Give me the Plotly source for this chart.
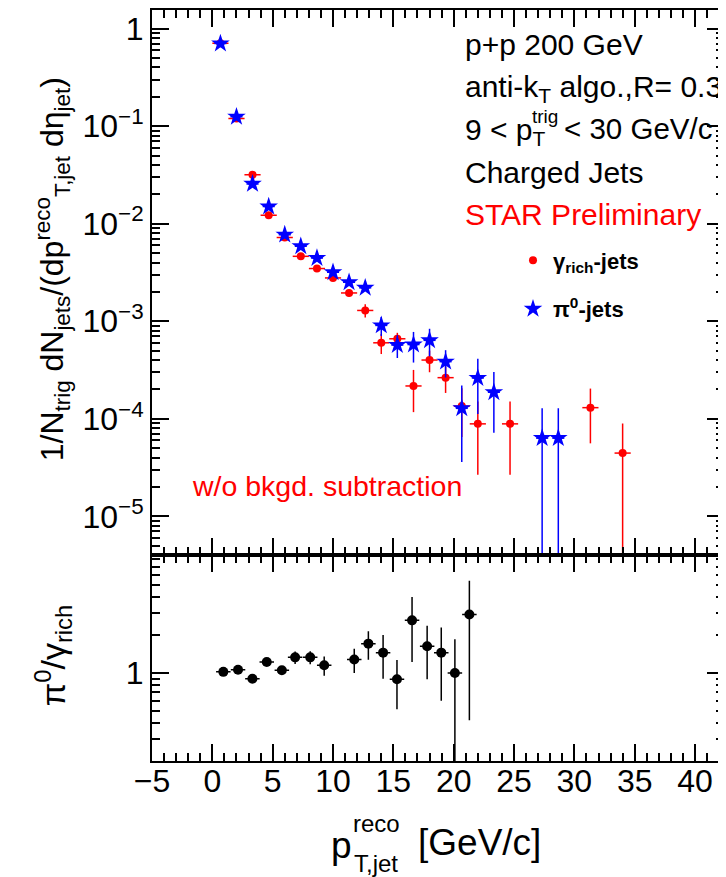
import plotly.graph_objects as go
from plotly.subplots import make_subplots

# pi0-triggered jets (blue stars)
pi0_pt = [0.67, 2.0, 3.33, 4.67, 6.0, 7.33, 8.67, 10.0, 11.33, 12.67,
          14.0, 15.33, 16.67, 18.0, 19.33, 20.67, 22.0, 23.33, 27.33, 28.67]
pi0_val = [0.703, 0.125, 0.0256, 0.0150, 0.00772, 0.00586, 0.00445, 0.00318, 0.00251, 0.00220,
           0.000906, 0.000570, 0.000577, 0.000637, 0.000385, 0.000128, 0.000262, 0.000187, 6.33e-5, 6.33e-5]
pi0_err = [0.01, 0.003, 0.0008, 0.0005, 0.0003, 0.00025, 0.0002, 0.00018, 0.00016, 0.00016,
           0.0002, 0.00015, 0.0002, 0.0002, 0.00012, 9.2e-5, 0.00015, 0.000115, 6.5e-5, 6.5e-5]

# gamma_rich-triggered jets (red circles)
gam_pt = [0.67, 2.0, 3.33, 4.67, 6.0, 7.33, 8.67, 10.0, 11.33, 12.67,
          14.0, 15.33, 16.67, 18.0, 19.33, 20.67, 22.0, 24.67, 31.33, 34.0]
gam_val = [0.71, 0.120, 0.0317, 0.0122, 0.00724, 0.00463, 0.00347, 0.00278, 0.00195, 0.00129,
           0.000601, 0.000661, 0.000217, 0.000400, 0.000264, 0.000135, 8.87e-5, 8.87e-5, 0.000130, 4.45e-5]
gam_err = [0.01, 0.003, 0.001, 0.0005, 0.0003, 0.00025, 0.0002, 0.00018, 0.00016, 0.0002,
           0.00014, 0.0001, 0.0001, 0.0001, 8e-5, 7e-5, 6.2e-5, 6.2e-5, 7.4e-5, 4.5e-5]
bin_half = 0.67

# ratio pi0 / gamma_rich
ratio_pt = [0.91, 2.13, 3.32, 4.51, 5.76, 6.86, 8.11, 9.27, 11.76, 12.93,
            14.15, 15.3, 16.55, 17.8, 18.97, 20.1, 21.3]
ratio_val = [1.02, 1.06, 0.90, 1.22, 1.05, 1.33, 1.33, 1.15, 1.28, 1.71,
             1.45, 0.89, 2.62, 1.63, 1.45, 1.0, 2.92]
ratio_err = [0.04, 0.04, 0.04, 0.05, 0.05, 0.15, 0.16, 0.2, 0.28, 0.44,
             0.55, 0.375, 1.4, 0.74, 0.85, 0.85, 2.5]
ratio_half = 0.6

top_ticks = [1e-5, 1e-4, 1e-3, 1e-2, 1e-1, 1]
top_ticktext = ["10<sup>\u22125</sup>", "10<sup>\u22124</sup>", "10<sup>\u22123</sup>",
                "10<sup>\u22122</sup>", "10<sup>\u22121</sup>", "1"]
top_minor = [m * d for d in [1e-6, 1e-5, 1e-4, 1e-3, 1e-2, 1e-1, 1] for m in range(2, 10)]
low_minor = [0.2, 0.3, 0.4, 0.5, 0.6, 0.7, 0.8, 0.9, 2, 3, 4, 5, 6, 7, 8, 9]

W, H = 726, 877
OFF = 8  # page body margin: target pixel = figure pixel + OFF
L, R, T, B = 152 - OFF, 724 - OFF, 0, 761 - OFF
FONT = "Liberation Sans, Arial, sans-serif"


def px(x):
    # target-image pixel -> paper fraction
    return (x - OFF - L) / (R - L)


def py(y):
    return (B - (y - OFF)) / (B - T)


fig = make_subplots(rows=2, cols=1, shared_xaxes=True, vertical_spacing=0)

fig.add_trace(go.Scatter(
    x=gam_pt, y=gam_val, mode="markers", name="<b>\u03b3<sub>rich</sub>-jets</b>",
    legendgroup="g",
    marker=dict(color="#ff0000", size=8, symbol="circle"),
    error_y=dict(type="data", array=gam_err, color="#ff0000", thickness=1.5, width=0),
    error_x=dict(type="constant", value=bin_half, color="#ff0000", thickness=1.5, width=0),
), row=1, col=1)

fig.add_trace(go.Scatter(
    x=pi0_pt, y=pi0_val, mode="markers", name="<b>\u03c0<sup>0</sup>-jets</b>",
    legendgroup="p",
    marker=dict(color="#0000ff", size=14, symbol="star"),
    error_y=dict(type="data", array=pi0_err, color="#0000ff", thickness=1.5, width=0),
    error_x=dict(type="constant", value=0.5, color="#0000ff", thickness=1.5, width=0),
), row=1, col=1)

fig.add_trace(go.Scatter(
    x=ratio_pt, y=ratio_val, mode="markers", showlegend=False,
    marker=dict(color="black", size=10, symbol="circle"),
    error_y=dict(type="data", array=ratio_err, color="black", thickness=1.5, width=0),
    error_x=dict(type="constant", value=ratio_half, color="black", thickness=1.5, width=0),
), row=2, col=1)

axis_common = dict(
    showline=True, linecolor="black", linewidth=2, mirror="allticks",
    ticks="inside", tickcolor="black", tickwidth=1.5, ticklen=17,
    showgrid=False, zeroline=False,
    tickfont=dict(family=FONT, size=32, color="black"),
)
xminor = dict(ticks="inside", ticklen=8, dtick=1, tick0=0, tickcolor="black", tickwidth=1.5, showgrid=False)

fig.update_xaxes(range=[-5, 42.4], dtick=5, tick0=0, minor=xminor, **axis_common)
fig.update_xaxes(showticklabels=False, row=1, col=1)
fig.update_xaxes(ticklabelstandoff=-9, row=2, col=1)

fig.update_yaxes(
    type="log", range=[-5.392, 0.191], tickmode="array", tickvals=top_ticks, ticktext=top_ticktext,
    minor=dict(ticks="inside", ticklen=8, tickmode="array", tickvals=top_minor,
               tickcolor="black", tickwidth=1.5, showgrid=False),
    domain=[py(554), 1], row=1, col=1, **axis_common,
)
fig.update_yaxes(
    type="log", range=[-0.701, 0.942], tickmode="array", tickvals=[1], ticktext=["1"],
    minor=dict(ticks="inside", ticklen=8, tickmode="array", tickvals=low_minor,
               tickcolor="black", tickwidth=1.5, showgrid=False),
    domain=[0, py(554)], row=2, col=1, **axis_common,
)

# unity line in the ratio panel (log axis -> log10(1) = 0)
fig.add_shape(type="line", xref="x2 domain", yref="y2", x0=0, x1=1, y0=0, y1=0,
              line=dict(color="#ff0000", width=1.5, dash="5px,4px"))


def note(txt, x, y, size, color="black", angle=0, anchor="left"):
    fig.add_annotation(text=txt, xref="paper", yref="paper", x=px(x), y=py(y),
                       xanchor=anchor, yanchor="middle", showarrow=False, textangle=angle,
                       font=dict(family=FONT, size=size, color=color))


note("p+p 200 GeV", 463, 43, 30)
note("anti-k<sub>T</sub> algo.,R= 0.3", 463, 87, 30)
note("9 &lt; p<sub>T</sub>", 463, 130, 30)
note("trig", 530, 115, 19)
note("&lt; 30 GeV/c", 562, 127, 29.5)
note("Charged Jets", 463, 171, 30)
note("STAR Preliminary", 463, 213, 30, "#ff0000")

note("w/o bkgd. subtraction", 190, 485, 28.5, "#ff0000")

note("1/N<sub>trig</sub> dN<sub>jets</sub>/(dp<sup>reco</sup><sub>T,jet</sub> d\u03b7<sub>jet</sub>)",
     52, 268, 32, angle=-90, anchor="center")
note("\u03c0<sup>0</sup>/\u03b3<sub>rich</sub>", 53, 655, 34, angle=-90, anchor="center")

# x title with stacked super/subscript
note("p", 329, 846, 37)
note("reco", 351, 824, 24)
note("T,jet", 352, 864, 24)
note("[GeV/c]", 416, 843, 37)

fig.update_layout(
    width=W, height=H,
    margin=dict(l=L, r=W - R, t=T, b=H - B),
    paper_bgcolor="white", plot_bgcolor="white",
    showlegend=True,
    legend=dict(x=px(513), y=py(238), xanchor="left", yanchor="top",
                bgcolor="rgba(0,0,0,0)", tracegroupgap=17,
                font=dict(family=FONT, size=22, color="black")),
)

fig.write_html("out.html")
